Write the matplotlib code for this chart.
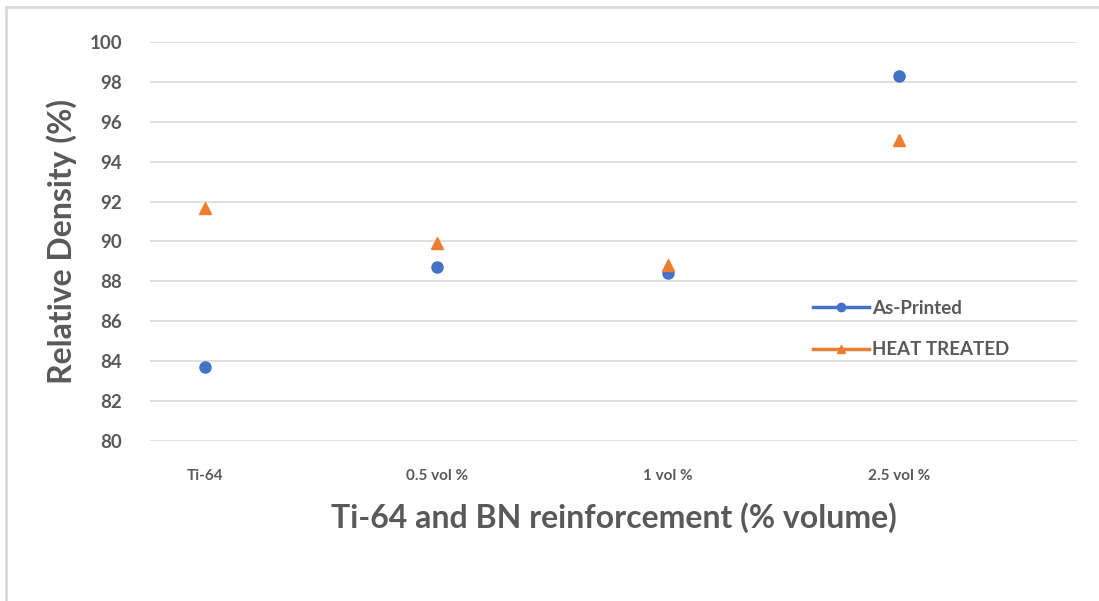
import matplotlib
matplotlib.use("Agg")
import matplotlib.pyplot as plt
from matplotlib.lines import Line2D

categories = ["Ti-64", "0.5 vol %", "1 vol %", "2.5 vol %"]
as_printed = [83.7, 88.7, 88.4, 98.3]
heat_treated = [91.7, 89.9, 88.8, 95.1]

BLUE = "#4472C4"
ORANGE = "#ED7D31"
GRAY = "#595959"

plt.rcParams["font.family"] = ["Lato", "DejaVu Sans"]

W, H = 1099, 601
fig = plt.figure(figsize=(W / 100, H / 100), dpi=100)
ax = fig.add_axes([150 / W, 1 - 441 / H, (1077 - 150) / W, (441 - 42) / H])

x = list(range(len(categories)))
ax.plot(x, as_printed, "o", color=BLUE, markersize=8, zorder=3)
ax.plot(x, heat_treated, "^", color=ORANGE, markersize=8, zorder=3)

ax.set_ylim(80, 100)
ax.set_yticks(range(80, 101, 2))
ax.set_xlim(-0.24, 3.77)
ax.set_xticks(x)
ax.set_xticklabels(categories)
ax.grid(axis="y", color="#d9d9d9", linewidth=1.2)
ax.set_axisbelow(True)
for s in ax.spines.values():
    s.set_visible(False)
ax.tick_params(length=0, colors=GRAY, labelsize=13.5)
ax.tick_params(axis="y", pad=20)
ax.tick_params(axis="x", pad=20, labelsize=11)
for lbl in ax.get_yticklabels() + ax.get_xticklabels():
    lbl.set_fontweight("bold")

ax.set_ylabel("Relative Density (%)", fontsize=23, fontweight="bold", color=GRAY, labelpad=9)
ax.set_xlabel("Ti-64 and BN reinforcement (% volume)", fontsize=23, fontweight="bold",
              color=GRAY, labelpad=14)

handles = [
    Line2D([], [], color=BLUE, marker="o", markersize=6, linewidth=2.5),
    Line2D([], [], color=ORANGE, marker="^", markersize=6, linewidth=2.5),
]
leg = fig.legend(handles, ["As-Printed", "HEAT TREATED"], loc="upper left",
                 bbox_to_anchor=(796 / W, 1 - 283 / H), frameon=False,
                 handlelength=3.0, handletextpad=0.15, labelspacing=1.3,
                 prop={"size": 13.5, "weight": "bold"})
for t in leg.get_texts():
    t.set_color(GRAY)

# chart area border (only left and top edges fall inside the image)
fig.add_artist(Line2D([6 / W, 6 / W], [0, 1 - 7 / H], color="#d9d9d9", linewidth=2,
                      transform=fig.transFigure))
fig.add_artist(Line2D([6 / W, 1], [1 - 7 / H, 1 - 7 / H], color="#d9d9d9", linewidth=2,
                      transform=fig.transFigure))

fig.savefig("out.png", dpi=100)
